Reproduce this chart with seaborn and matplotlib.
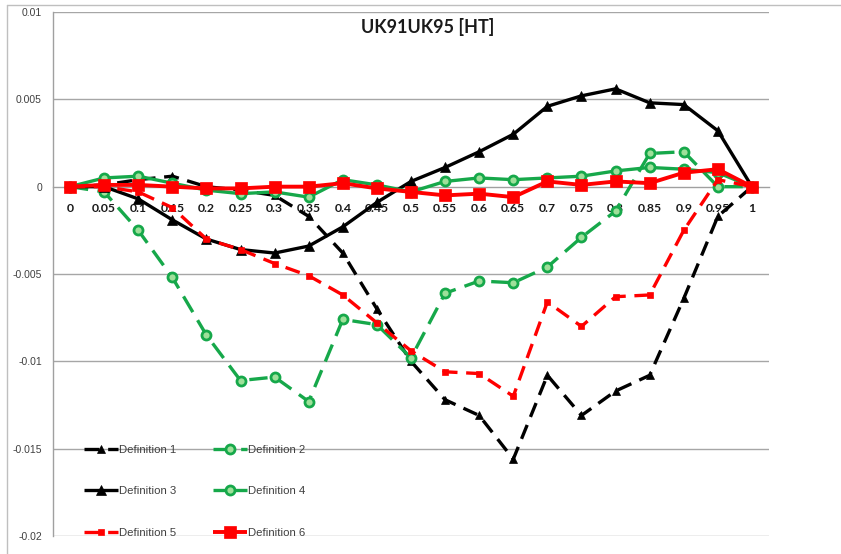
import numpy as np
import pandas as pd
import matplotlib
matplotlib.use("Agg")
import matplotlib.pyplot as plt
from matplotlib.lines import Line2D
import seaborn as sns

# Category labels along the x axis
thresholds = ["0", "0.05", "0.1", "0.15", "0.2", "0.25", "0.3", "0.35", "0.4", "0.45", "0.5",
              "0.55", "0.6", "0.65", "0.7", "0.75", "0.8", "0.85", "0.9", "0.95", "1"]

def1 = [0.0, 0.0001, 0.0004, 0.0006, 0.0, -0.0002, -0.0005, -0.0017, -0.0038, -0.0070, -0.0100,
        -0.0122, -0.0131, -0.0156, -0.0108, -0.0131, -0.0117, -0.0108, -0.0064, -0.0017, 0.0]
def2 = [0.0, -0.0003, -0.0025, -0.0052, -0.0085, -0.0111, -0.0109, -0.0123, -0.0076, -0.0079, -0.0098,
        -0.0061, -0.0054, -0.0055, -0.0046, -0.0029, -0.0014, 0.0019, 0.0020, 0.0, 0.0]
def3 = [0.0, 0.0, -0.0007, -0.0019, -0.0030, -0.0036, -0.0038, -0.0034, -0.0023, -0.0009, 0.0003,
        0.0011, 0.0020, 0.0030, 0.0046, 0.0052, 0.0056, 0.0048, 0.0047, 0.0032, 0.0]
def4 = [0.0, 0.0005, 0.0006, 0.0002, -0.0002, -0.0004, -0.0003, -0.0006, 0.0004, 0.0001, -0.0003,
        0.0003, 0.0005, 0.0004, 0.0005, 0.0006, 0.0009, 0.0011, 0.0010, 0.0008, 0.0]
def5 = [0.0, 0.0, -0.0003, -0.0012, -0.0030, -0.0036, -0.0044, -0.0051, -0.0062, -0.0078, -0.0094,
        -0.0106, -0.0107, -0.0120, -0.0066, -0.0080, -0.0063, -0.0062, -0.0025, 0.0004, 0.0]
def6 = [0.0, 0.0001, 0.0001, 0.0, -0.0001, -0.0001, 0.0, 0.0, 0.0002, -0.0001, -0.0003,
        -0.0005, -0.0004, -0.0006, 0.0003, 0.0001, 0.0003, 0.0002, 0.0008, 0.0010, 0.0]

y_ticks = [0.01, 0.005, 0.0, -0.005, -0.01, -0.015, -0.02]
y_tick_labels = ["0.01", "0.005", "0", "-0.005", "-0.01", "-0.015", "-0.02"]

GREEN = "#16a84a"
GREEN_FACE = "#9fe09a"
RED = "#ff0000"
BLACK = "#000000"

sns.set_theme(style="white")
plt.rcParams["font.family"] = ["Liberation Sans", "DejaVu Sans"]

W, H = 841, 554
fig = plt.figure(figsize=(W / 100, H / 100), dpi=100)
ax = fig.add_axes([53 / W, 1 - 536 / H, (769 - 53) / W, (536 - 12) / H])

pos = np.arange(len(thresholds))
frame = pd.DataFrame({"pos": pos, "Definition 1": def1, "Definition 2": def2,
                      "Definition 3": def3, "Definition 4": def4,
                      "Definition 5": def5, "Definition 6": def6})

styles = {
    "Definition 1": dict(color=BLACK, lw=2.4, dashes=(4.5, 2.6), marker="^", ms=6,
                         mfc=BLACK, mec=BLACK, mew=0.5),
    "Definition 2": dict(color=GREEN, lw=2.4, dashes=(5.5, 2.8), marker="o", ms=6.5,
                         mfc=GREEN_FACE, mec=GREEN, mew=2.0),
    "Definition 3": dict(color=BLACK, lw=2.4, dashes=None, marker="^", ms=7.5,
                         mfc=BLACK, mec=BLACK, mew=0.5),
    "Definition 4": dict(color=GREEN, lw=2.4, dashes=None, marker="o", ms=6.5,
                         mfc=GREEN_FACE, mec=GREEN, mew=2.0),
    "Definition 5": dict(color=RED, lw=2.4, dashes=(4.5, 2.6), marker="s", ms=5,
                         mfc=RED, mec=RED, mew=0.5),
    "Definition 6": dict(color=RED, lw=2.8, dashes=None, marker="s", ms=8,
                         mfc=RED, mec=RED, mew=0.5),
}

handles = {}
for i, (name, st) in enumerate(styles.items()):
    n_before = len(ax.lines)
    sns.lineplot(data=frame, x="pos", y=name, ax=ax, color=st["color"], linewidth=st["lw"],
                 marker=st["marker"], markersize=st["ms"], markerfacecolor=st["mfc"],
                 markeredgecolor=st["mec"], markeredgewidth=st["mew"], legend=False,
                 zorder=3 + i)
    line = ax.lines[n_before]
    if st["dashes"] is not None:
        line.set_dashes(st["dashes"])
    line.set_solid_capstyle("butt")
    line.set_dash_capstyle("butt")
    line.set_label(name)
    handles[name] = line

ax.set_xlim(-0.5, len(thresholds) - 0.5)
ax.set_ylim(-0.02, 0.01)
ax.set_xlabel("")
ax.set_ylabel("")

# Horizontal gridlines at every major y tick
ax.set_yticks(y_ticks)
ax.set_yticklabels(y_tick_labels)
for yv in y_ticks:
    if yv != 0:
        ax.axhline(yv, color="#a6a6a6", lw=1.0, zorder=1)

# Category axis drawn through zero
for side in ["top", "right"]:
    ax.spines[side].set_visible(False)
ax.spines["bottom"].set_position(("data", 0))
ax.spines["bottom"].set_color("#a0a0a0")
ax.spines["bottom"].set_linewidth(1.0)
ax.spines["bottom"].set_zorder(2)
ax.spines["left"].set_color("#a0a0a0")
ax.spines["left"].set_linewidth(1.0)

ax.set_xticks(pos)
ax.set_xticklabels(thresholds, fontfamily="Lato", fontweight="bold", fontsize=8.8, color="#1a1a1a")
ax.set_xticks(np.arange(-0.5, len(thresholds)), minor=True)
ax.tick_params(axis="x", which="major", length=0, pad=12)
ax.tick_params(axis="x", which="minor", length=4, width=1, color="#a0a0a0", direction="out")
ax.tick_params(axis="y", which="major", length=4, width=1, color="#a0a0a0", direction="out",
               labelsize=7.5, labelcolor="#404040", pad=4)

fig.text(428 / W, 1 - 27 / H, "UK91UK95 [HT]", fontfamily="Lato", fontweight="bold",
         fontsize=13, color="#1a1a1a", ha="center", va="center")

order = ["Definition 1", "Definition 3", "Definition 5",
         "Definition 2", "Definition 4", "Definition 6"]
leg = ax.legend([handles[k] for k in order], order, ncol=2, frameon=False,
                loc="upper left", bbox_to_anchor=(84 / W, 1 - 445 / H),
                bbox_transform=fig.transFigure, fontsize=8.2, handlelength=3.0,
                handletextpad=0.1, columnspacing=3.2, labelspacing=2.76, borderpad=0,
                borderaxespad=0)
for t in leg.get_texts():
    t.set_color("#404040")

# Chart-area border
fig.add_artist(Line2D([7 / W, 7 / W], [0, 1 - 5 / H], transform=fig.transFigure,
                      color="#bfbfbf", lw=1.0))
fig.add_artist(Line2D([7 / W, 1], [1 - 5 / H, 1 - 5 / H], transform=fig.transFigure,
                      color="#bfbfbf", lw=1.0))

fig.savefig("out.png", dpi=100)
